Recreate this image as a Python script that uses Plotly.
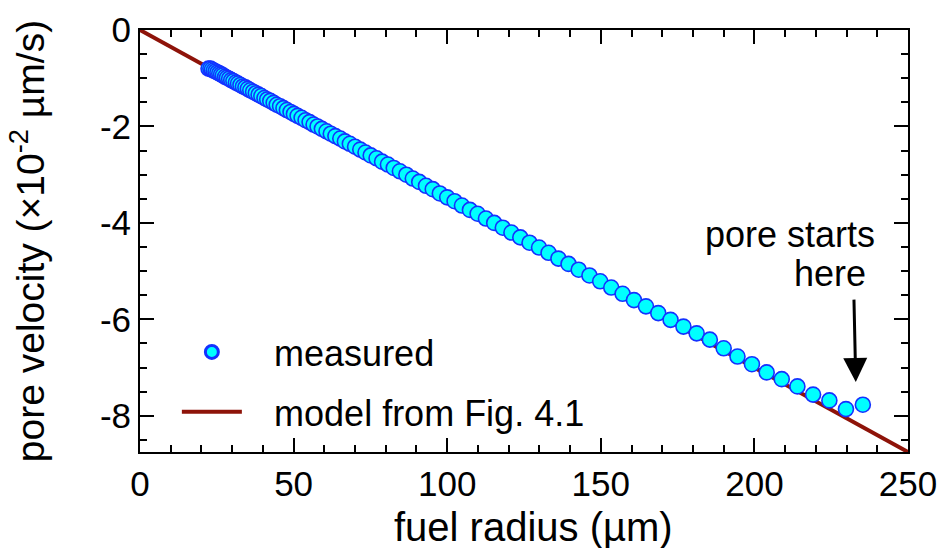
import plotly.graph_objects as go

# measured pore positions (fuel radius, um) and pore velocity (x1e-2 um/s)
radius = [22.3, 22.9, 23.4, 24.0, 24.6, 25.2, 25.8, 26.4, 27.0, 27.7,
          28.3, 29.0, 29.7, 30.4, 31.2, 31.9, 32.7, 33.5, 34.3, 35.1,
          35.9, 36.8, 37.7, 38.6, 39.5, 40.5, 41.4, 42.4, 43.5, 44.5,
          45.6, 46.7, 47.8, 49.0, 50.1, 51.3, 52.6, 53.9, 55.2, 56.5,
          57.8, 59.2, 60.7, 62.1, 63.6, 65.2, 66.7, 68.3, 70.0, 71.7,
          73.4, 75.1, 77.0, 78.8, 80.7, 82.6, 84.6, 86.7, 88.8, 90.9,
          93.1, 95.3, 97.6, 100.0, 102.4, 104.8, 107.4, 109.9, 112.6, 115.3,
          118.1, 120.9, 123.8, 126.8, 129.9, 133.0, 136.2, 139.5, 142.8, 146.3,
          149.8, 153.4, 157.1, 160.8, 164.7, 168.7, 172.7, 176.9, 181.2, 185.5,
          190.0, 194.5, 199.2, 204.0, 208.9, 214.0, 219.1, 224.4, 229.8, 235.3]
velocity = [-0.80, -0.80, -0.82, -0.84, -0.86, -0.88, -0.90, -0.92, -0.94, -0.97,
            -0.99, -1.01, -1.04, -1.06, -1.09, -1.11, -1.14, -1.17, -1.19, -1.22,
            -1.25, -1.28, -1.31, -1.34, -1.37, -1.41, -1.44, -1.47, -1.51, -1.55,
            -1.58, -1.62, -1.66, -1.70, -1.74, -1.78, -1.82, -1.87, -1.91, -1.96,
            -2.00, -2.05, -2.10, -2.15, -2.20, -2.25, -2.31, -2.36, -2.42, -2.48,
            -2.54, -2.60, -2.66, -2.73, -2.79, -2.86, -2.93, -3.00, -3.08, -3.15,
            -3.23, -3.30, -3.39, -3.47, -3.55, -3.64, -3.73, -3.81, -3.91, -4.00,
            -4.10, -4.20, -4.30, -4.41, -4.51, -4.62, -4.74, -4.85, -4.97, -5.09,
            -5.21, -5.34, -5.47, -5.60, -5.73, -5.87, -6.01, -6.15, -6.29, -6.42,
            -6.60, -6.77, -6.93, -7.10, -7.24, -7.39, -7.56, -7.68, -7.86, -7.77]

# model from Fig. 4.1 (straight line)
model_radius = [0, 250]
model_velocity = [0, -8.75]

x_ticks = [0, 50, 100, 150, 200, 250]
y_ticks = [0, -2, -4, -6, -8]

FONT = "Liberation Sans, Arial, sans-serif"
CYAN = "#00ffff"
BLUE = "#1432ff"
RED = "#8e1309"
PAD = "\u00a0\u00a0\u2009"

fig = go.Figure()
fig.add_trace(go.Scatter(
    x=model_radius, y=model_velocity, mode="lines",
    line=dict(color=RED, width=4),
    name=PAD + "model from Fig. 4.1", legendgroup="b", legendrank=2,
))
fig.add_trace(go.Scatter(
    x=radius, y=velocity, mode="markers",
    marker=dict(size=15, color=CYAN, line=dict(color=BLUE, width=1.6)),
    name="measured", showlegend=False,
))
# legend-only entry for the measured series (smaller symbol with heavier rim)
fig.add_trace(go.Scatter(
    x=[None], y=[None], mode="markers",
    marker=dict(size=13, color=CYAN, line=dict(color=BLUE, width=3)),
    name=PAD + "measured", legendgroup="a", legendrank=1,
))

fig.add_annotation(
    x=239.9, y=-4.23, xref="x", yref="y", text="pore starts",
    showarrow=False, xanchor="right", yanchor="middle",
    font=dict(family=FONT, size=36, color="black"),
)
fig.add_annotation(
    x=237.0, y=-5.04, xref="x", yref="y", text="here",
    showarrow=False, xanchor="right", yanchor="middle",
    font=dict(family=FONT, size=36, color="black"),
)
fig.add_annotation(
    x=233.0, y=-7.30, ax=232.4, ay=-5.56, xref="x", yref="y",
    axref="x", ayref="y", text="", showarrow=True,
    arrowhead=2, arrowsize=1.6, arrowwidth=3, arrowcolor="black",
)
# x-axis title
fig.add_annotation(
    x=0.513, y=-0.178, xref="paper", yref="paper", text="fuel radius (µm)",
    showarrow=False, xanchor="center", yanchor="middle",
    font=dict(family=FONT, size=40, color="black"),
)

axis_common = dict(
    showline=True, linecolor="black", linewidth=2, mirror="ticks",
    ticks="inside", ticklen=14, tickwidth=2, tickcolor="black",
    showgrid=False, zeroline=False, automargin=False,
    tickfont=dict(family=FONT, size=35, color="black"),
)

fig.update_xaxes(
    range=[0, 250], tickvals=x_ticks, ticktext=[str(v) for v in x_ticks],
    minor=dict(dtick=10, ticks="inside", ticklen=7, tickwidth=1.5, tickcolor="black"),
    **axis_common,
)
fig.update_yaxes(
    range=[-8.75, 0], tickvals=y_ticks, ticktext=[str(v) for v in y_ticks],
    minor=dict(dtick=0.5, ticks="inside", ticklen=7, tickwidth=1.5, tickcolor="black"),
    title=dict(text="pore velocity (×10<sup>-2</sup> µm/s)", font=dict(family=FONT, size=39, color="black"), standoff=43),
    **axis_common,
)

fig.update_layout(
    width=942, height=548,
    margin=dict(l=140, r=34, t=30, b=96),
    plot_bgcolor="white", paper_bgcolor="white",
    showlegend=True,
    legend=dict(
        x=0.048, y=0.308, xanchor="left", yanchor="top",
        bgcolor="rgba(0,0,0,0)", itemwidth=60, tracegroupgap=10,
        font=dict(family=FONT, size=36, color="black"),
    ),
)

fig.write_html("out.html")
